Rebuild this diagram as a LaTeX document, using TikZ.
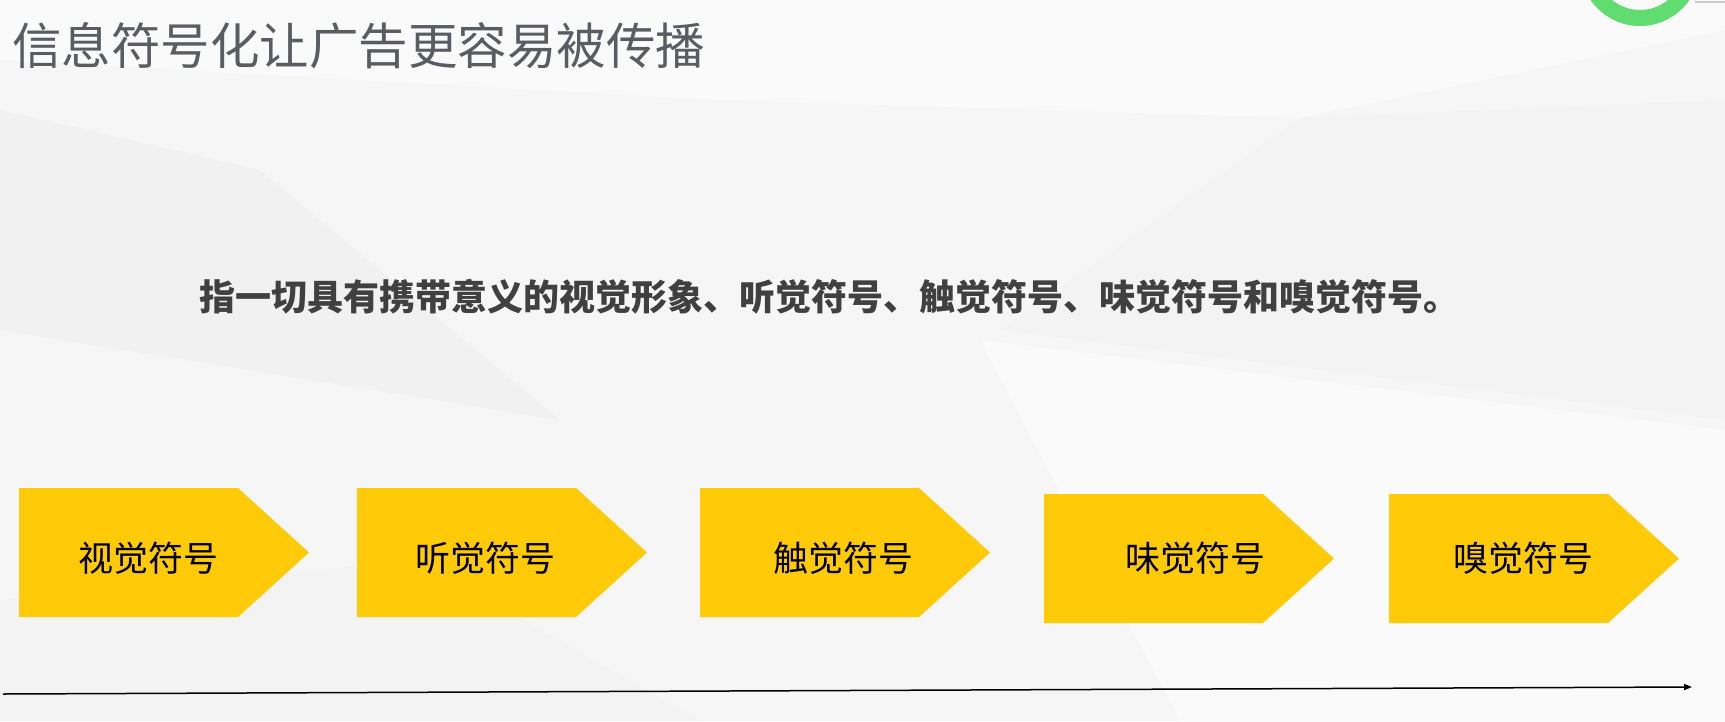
\documentclass[tikz,border=0pt]{standalone}
\usepackage{fontspec}
\newfontfamily\cjk{Noto Sans CJK SC}
\usetikzlibrary{arrows.meta}
\definecolor{bgbase}{RGB}{246,246,247}
\definecolor{bglight}{RGB}{250,250,250}
\definecolor{bgdark}{RGB}{241,241,242}
\definecolor{chevyellow}{RGB}{255,202,8}
\definecolor{titlegray}{RGB}{89,92,97}
\definecolor{subgray}{RGB}{64,64,64}
\definecolor{ringgreen}{RGB}{96,220,112}
\tikzset{
  chevfill/.style={fill=chevyellow},
  chevtext/.style={font=\cjk\fontsize{35}{40}\selectfont, text=black, inner sep=0pt, anchor=center},
  titletext/.style={font=\cjk\fontsize{49.5}{56}\selectfont, text=titlegray, inner sep=0pt, anchor=west},
  subtext/.style={font=\cjk\bfseries\fontsize{36}{42}\selectfont, text=subgray, inner sep=0pt, anchor=west},
  timeline/.style={line width=1.5pt, draw=black, -{Triangle[length=8pt,width=6pt]}},
}
\newcommand{\chevshape}[5]{%
  \fill[chevfill] (#2,#3) -- ++(219,0) -- ++(71,64.5) -- ++(-71,64.5) -- ++(-219,0) -- cycle;
  \node[chevtext] (#1) at (#4,558) {#5};%
}
\begin{document}
\begin{tikzpicture}[x=1pt,y=-1pt]
\useasboundingbox (0,0) rectangle (1725,721);
% background
\fill[bgbase] (0,0) rectangle (1725,721);
\fill[bglight] (0,0) -- (1725,0) -- (1725,30) -- (1300,118) -- (720,100) -- (0,60) -- cycle;
\fill[bgdark] (0,110) -- (260,170) -- (560,420) -- (0,330) -- cycle;
\fill[bgdark,opacity=0.6] (1300,118) -- (1725,100) -- (1725,420) -- (1000,330) -- cycle;
\fill[bglight] (980,340) -- (1725,430) -- (1725,721) -- (1180,721) -- cycle;
\fill[bgdark,opacity=0.5] (0,600) -- (420,560) -- (700,721) -- (0,721) -- cycle;
% green ring (partly off the page)
\begin{scope}
  \clip (0,0) rectangle (1725,721);
  \fill[ringgreen,even odd rule] (1640,-34) circle[radius=60] (1640,-34) circle[radius=44];
  \draw[gray!40,line width=2pt] (1695,2) -- (1725,2);
\end{scope}
% title and description
\node[titletext] (title) at (12,46) {信息符号化让广告更容易被传播};
\node[subtext] (desc) at (199,297) {指一切具有携带意义的视觉形象、听觉符号、触觉符号、味觉符号和嗅觉符号。};
% chevrons
\chevshape{s1}{19}{488}{148}{视觉符号}
\chevshape{s2}{357}{488}{485}{听觉符号}
\chevshape{s3}{700}{488}{843}{触觉符号}
\chevshape{s4}{1044}{494}{1195}{味觉符号}
\chevshape{s5}{1389}{494}{1523}{嗅觉符号}
% timeline arrow
\coordinate (tstart) at (3,694);
\coordinate (tend) at (1692,687);
\draw[timeline] (tstart) -- (tend);
\end{tikzpicture}
\end{document}
